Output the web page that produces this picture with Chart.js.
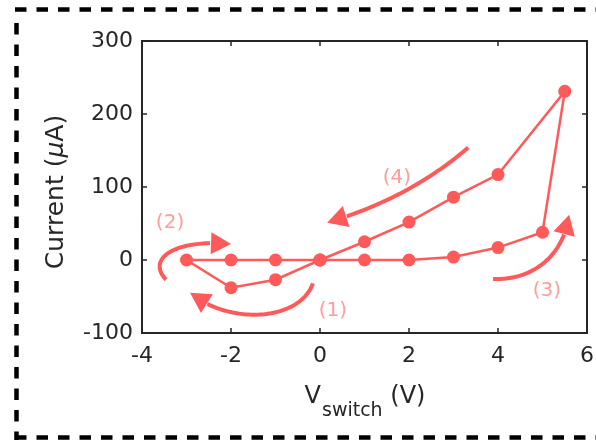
<!DOCTYPE html>
<html>
<head>
<meta charset="utf-8">
<script src="https://cdn.jsdelivr.net/npm/chart.js@4.4.0/dist/chart.umd.min.js"></script>
<style>
  html, body { margin: 0; padding: 0; background: #fff; }
  #wrap { width: 596px; height: 440px; }
</style>
</head>
<body>
<div id="wrap"><canvas id="ivChart" width="596" height="440"></canvas></div>
<script>
// sweep order: 0 -> -3 V, back up to 5.5 V, then down to 0 V
const vSwitch = [0, -1, -2, -3, -2, -1, 0, 1, 2, 3, 4, 5, 5.5, 4, 3, 2, 1, 0];
const current = [0, -27, -38, 0, 0, 0, 0, 0, 0, 4, 17, 38, 231, 117, 86, 52, 25, 0];

// axis ticks
const xTicks = [-4, -2, 0, 2, 4, 6];
const yTicks = [-100, 0, 100, 200, 300];

// sweep direction labels and curved arrows (in data units)
const stepLabels = ['(1)', '(2)', '(3)', '(4)'];
const stepLabelPos = [[0.29, -69], [-3.37, 51], [5.1, -42], [1.73, 113]];
const stepArrows = [
    [[-0.16, -32], [-0.45, -83], [-2.02, -90], [-2.92, -45]],
    [[-3.46, -27], [-3.91, 2], [-3.26, 29], [-2.0, 22]],
    [[3.89, -26], [4.61, -28], [5.44, -4], [5.6, 62]],
    [[3.33, 154], [2.47, 109], [1.46, 75], [0.16, 51]]
];

const lineColor = '#ff5a5a';
const noteColor = '#ff9c9c';
const inkColor = '#262626';
const family = '"DejaVu Sans"';

const points = vSwitch.map((v, i) => ({ x: v, y: current[i] }));

function bez(p, t) {
    const u = 1 - t;
    return [
        u*u*u*p[0][0] + 3*u*u*t*p[1][0] + 3*u*t*t*p[2][0] + t*t*t*p[3][0],
        u*u*u*p[0][1] + 3*u*u*t*p[1][1] + 3*u*t*t*p[2][1] + t*t*t*p[3][1]
    ];
}

function drawArrow(ctx, p) {
    const tip = p[3];
    const headLen = 20, headHalf = 11;
    // shaft as polyline, stopping inside the head
    const pts = [];
    for (let i = 0; i <= 60; i++) pts.push(bez(p, i / 60));
    let base = pts[0];
    ctx.beginPath();
    ctx.moveTo(pts[0][0], pts[0][1]);
    for (const q of pts) {
        const d = Math.hypot(tip[0] - q[0], tip[1] - q[1]);
        if (d < headLen) break;
        ctx.lineTo(q[0], q[1]);
        base = q;
    }
    ctx.lineTo(base[0], base[1]);
    ctx.stroke();
    let dx = tip[0] - base[0], dy = tip[1] - base[1];
    const len = Math.hypot(dx, dy) || 1;
    dx /= len; dy /= len;
    const bx = tip[0] - dx * headLen, by = tip[1] - dy * headLen;
    ctx.beginPath();
    ctx.moveTo(tip[0], tip[1]);
    ctx.lineTo(bx - dy * headHalf, by + dx * headHalf);
    ctx.lineTo(bx + dy * headHalf, by - dx * headHalf);
    ctx.closePath();
    ctx.fill();
}

const framePlugin = {
    id: 'frame',
    beforeDraw(chart) {
        const ctx = chart.ctx;
        ctx.save();
        ctx.fillStyle = '#fff';
        ctx.fillRect(0, 0, chart.width, chart.height);
        // dashed outline
        ctx.strokeStyle = '#000';
        ctx.lineWidth = 4.5;
        ctx.setLineDash([11.5, 10]);
        ctx.beginPath();
        ctx.moveTo(15, 9.5); ctx.lineTo(chart.width, 9.5);
        ctx.moveTo(16.5, 23); ctx.lineTo(16.5, chart.height);
        ctx.moveTo(15, 437.5); ctx.lineTo(chart.width, 437.5);
        ctx.stroke();
        ctx.restore();
    },
    afterDatasetsDraw(chart) {
        const ctx = chart.ctx;
        const a = chart.chartArea;
        const xs = chart.scales.x, ys = chart.scales.y;
        ctx.save();

        // curved arrows and step labels
        ctx.strokeStyle = lineColor;
        ctx.fillStyle = lineColor;
        ctx.lineWidth = 4;
        ctx.lineCap = 'butt';
        stepArrows.forEach(arr => {
            drawArrow(ctx, arr.map(q => [xs.getPixelForValue(q[0]), ys.getPixelForValue(q[1])]));
        });
        ctx.fillStyle = noteColor;
        ctx.font = '20px ' + family;
        ctx.textAlign = 'center';
        ctx.textBaseline = 'middle';
        stepLabels.forEach((t, i) => {
            ctx.fillText(t, xs.getPixelForValue(stepLabelPos[i][0]), ys.getPixelForValue(stepLabelPos[i][1]));
        });

        // box with inward ticks
        ctx.strokeStyle = inkColor;
        ctx.lineWidth = 2;
        ctx.strokeRect(a.left, a.top, a.right - a.left, a.bottom - a.top);
        ctx.lineWidth = 1.5;
        ctx.beginPath();
        xTicks.forEach(v => {
            const px = xs.getPixelForValue(v);
            ctx.moveTo(px, a.bottom); ctx.lineTo(px, a.bottom - 5);
            ctx.moveTo(px, a.top); ctx.lineTo(px, a.top + 5);
        });
        yTicks.forEach(v => {
            const py = ys.getPixelForValue(v);
            ctx.moveTo(a.left, py); ctx.lineTo(a.left + 5, py);
            ctx.moveTo(a.right, py); ctx.lineTo(a.right - 5, py);
        });
        ctx.stroke();

        // axis titles
        ctx.fillStyle = inkColor;
        ctx.textAlign = 'left';
        ctx.textBaseline = 'alphabetic';
        const big = '24px ' + family, sub = '19px ' + family;
        ctx.font = big; const wV = ctx.measureText('V').width;
        ctx.font = sub; const wS = ctx.measureText('switch').width;
        ctx.font = big; const wU = ctx.measureText(' (V)').width;
        let x0 = (a.left + a.right) / 2 - (wV + wS + wU) / 2;
        ctx.font = big; ctx.fillText('V', x0, 403);
        ctx.font = sub; ctx.fillText('switch', x0 + wV + 1, 416);
        ctx.font = big; ctx.fillText(' (V)', x0 + wV + wS + 1, 403);

        ctx.translate(63, 192);
        ctx.rotate(-Math.PI / 2);
        const yt = '25px ' + family, yi = 'italic 25px ' + family;
        ctx.font = yt; const w1 = ctx.measureText('Current (').width;
        ctx.font = yi; const w2 = ctx.measureText('\u03bc').width;
        ctx.font = yt; const w3 = ctx.measureText('A)').width;
        let s = -(w1 + w2 + w3) / 2;
        ctx.font = yt; ctx.fillText('Current (', s, 0);
        ctx.font = yi; ctx.fillText('\u03bc', s + w1, 0);
        ctx.font = yt; ctx.fillText('A)', s + w1 + w2, 0);
        ctx.restore();
    }
};

new Chart(document.getElementById('ivChart'), {
    type: 'scatter',
    data: {
        datasets: [{
            data: points,
            showLine: true,
            borderColor: lineColor,
            backgroundColor: lineColor,
            borderWidth: 2.5,
            pointRadius: 6.5,
            pointHoverRadius: 6.5,
            pointBorderWidth: 0,
            tension: 0
        }]
    },
    options: {
        responsive: false,
        animation: false,
        layout: { padding: { top: 41, right: 9, left: 0, bottom: 0 } },
        plugins: { legend: { display: false }, tooltip: { enabled: false } },
        scales: {
            x: {
                type: 'linear',
                min: -4, max: 6,
                afterBuildTicks: s => { s.ticks = xTicks.map(v => ({ value: v })); },
                afterFit: s => { s.height = 107; s.paddingLeft = 0; s.paddingRight = 0; },
                grid: { display: false, drawTicks: false },
                border: { display: false },
                ticks: { color: inkColor, font: { family: 'DejaVu Sans', size: 22 }, padding: 10, maxRotation: 0 }
            },
            y: {
                type: 'linear',
                min: -100, max: 300,
                afterBuildTicks: s => { s.ticks = yTicks.map(v => ({ value: v })); },
                afterFit: s => { s.width = 142; s.paddingTop = 0; s.paddingBottom = 0; },
                grid: { display: false, drawTicks: false },
                border: { display: false },
                ticks: { color: inkColor, font: { family: 'DejaVu Sans', size: 22 }, padding: 9 }
            }
        }
    },
    plugins: [framePlugin]
});
</script>
</body>
</html>
